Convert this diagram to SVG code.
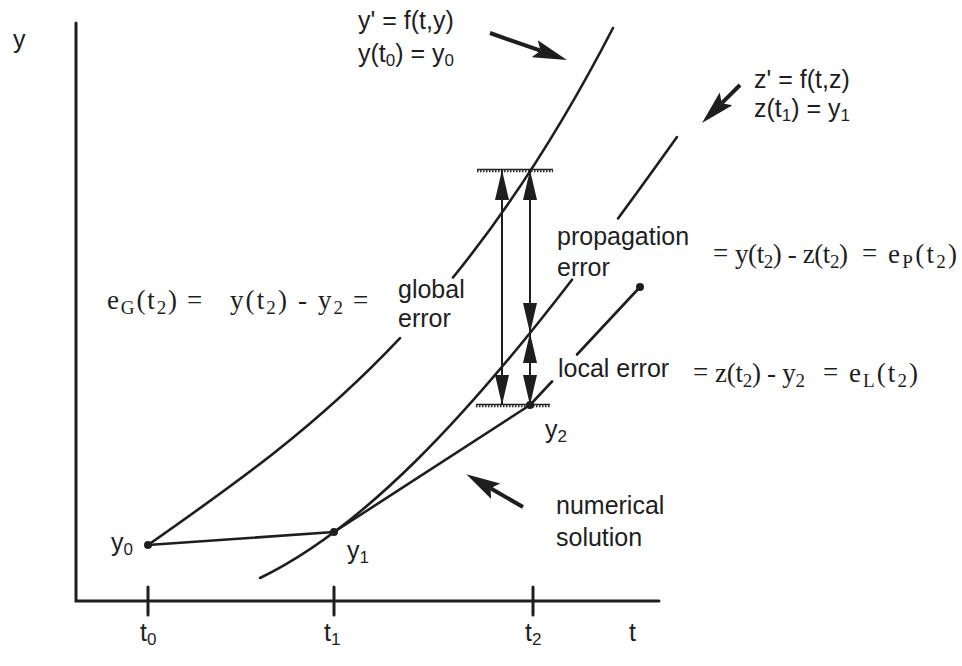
<svg xmlns="http://www.w3.org/2000/svg" width="962" height="666" viewBox="0 0 962 666">
<defs>
<style>
.ax{stroke:#1e1e1e;stroke-width:3;fill:none;stroke-linecap:round}
.cv{stroke:#1e1e1e;stroke-width:2.6;fill:none;stroke-linecap:round;stroke-linejoin:round}
.sh{stroke:#1e1e1e;stroke-width:2;fill:none}
.pt{stroke:#1e1e1e;stroke-width:4;fill:none}
.ht{stroke:#1e1e1e;stroke-width:1.3;fill:none}
.hd{stroke:#1e1e1e;stroke-width:2;fill:none;stroke-dasharray:1.5 1.5}
.s{font-family:"Liberation Sans",Arial,sans-serif;font-size:25px;fill:#1e1e1e}
.m{font-family:"Liberation Serif","Times New Roman",serif;font-size:27px;fill:#1e1e1e}
.b{font-size:19px}
.bs{font-size:17px}
.dot{fill:#1e1e1e}
</style>
<marker id="ah" markerUnits="userSpaceOnUse" markerWidth="32" markerHeight="16" viewBox="0 -8 32 16" refX="30" refY="0" orient="auto-start-reverse">
<path d="M30,0 L0,-7 L0,7 Z" fill="#1e1e1e"/>
</marker>
<marker id="pa" markerUnits="userSpaceOnUse" markerWidth="36" markerHeight="20" viewBox="0 -10 36 20" refX="6" refY="0" orient="auto">
<path d="M34,0 L0,-9 L6,0 L0,9 Z" fill="#1e1e1e"/>
</marker>
</defs>
<rect width="962" height="666" fill="#ffffff"/>

<g id="axes">
<path class="ax" d="M76,23 V601 H659"/>
<path class="ax" d="M148,587 V615 M334,587 V615 M533,587 V615"/>
</g>

<g id="connectors">
<path class="cv" d="M148,545 C232,486.2 316,427.4 400,338.1"/>
<path class="cv" d="M453,277.5 C506.3,211.8 559.7,131.2 613,28"/>
<path class="cv" d="M260,578 C364,527.8 468,415 572,279.7"/>
<path class="cv" d="M618,218.5 C637.7,191.8 657.3,164.6 677,137"/>
<polyline class="cv" points="148,545 334,532 530,405 552,381.5"/>
<line class="cv" x1="577" y1="354.5" x2="640" y2="287"/>
<path class="ht" d="M477,169.5 H553 M476,404.5 H550"/>
<path class="hd" d="M477,171.3 H553 M476,406.3 H550"/>
<line class="sh" x1="502" y1="170" x2="502" y2="405" marker-start="url(#ah)" marker-end="url(#ah)"/>
<line class="sh" x1="530" y1="170" x2="530" y2="333" marker-start="url(#ah)" marker-end="url(#ah)"/>
<line class="sh" x1="530" y1="333" x2="530" y2="405" marker-start="url(#ah)" marker-end="url(#ah)"/>
<line class="pt" x1="490" y1="33" x2="540.5" y2="50.7" marker-end="url(#pa)"/>
<line class="pt" x1="740" y1="85" x2="721.8" y2="103.2" marker-end="url(#pa)"/>
<line class="pt" x1="523" y1="507" x2="490.5" y2="488.2" marker-end="url(#pa)"/>
</g>

<g id="points">
<circle class="dot" cx="148" cy="545" r="4"/>
<circle class="dot" cx="334" cy="532" r="4"/>
<circle class="dot" cx="530" cy="405" r="4"/>
<circle class="dot" cx="640" cy="287" r="4"/>
</g>

<g id="labels">
<text class="s" x="13" y="48">y</text>
<text class="s" x="358" y="29">y' = f(t,y)</text>
<text class="s" x="358" y="62">y(t<tspan class="bs" dy="4">0</tspan><tspan dy="-4">) = y</tspan><tspan class="bs" dy="4">0</tspan></text>
<text class="s" x="754" y="88">z' = f(t,z)</text>
<text class="s" x="754" y="117">z(t<tspan class="bs" dy="4">1</tspan><tspan dy="-4">) = y</tspan><tspan class="bs" dy="4">1</tspan></text>
<text class="s" x="557" y="245">propagation</text>
<text class="s" x="557" y="276">error</text>
<text class="s" x="398" y="298">global</text>
<text class="s" x="398" y="327">error</text>
<text class="s" x="558" y="377">local error</text>
<text class="s" x="556" y="514">numerical</text>
<text class="s" x="556" y="546">solution</text>
<text class="s" x="111" y="551">y<tspan class="bs" dy="4">0</tspan></text>
<text class="s" x="347" y="559">y<tspan class="bs" dy="4">1</tspan></text>
<text class="s" x="545" y="438">y<tspan class="bs" dy="4">2</tspan></text>
<text class="s" x="140" y="641">t<tspan class="bs" dy="4">0</tspan></text>
<text class="s" x="324" y="641">t<tspan class="bs" dy="4">1</tspan></text>
<text class="s" x="525" y="641">t<tspan class="bs" dy="4">2</tspan></text>
<text class="s" x="629" y="641">t</text>
</g>

<g id="formulas">
<text class="m" x="107" y="309" textLength="70">e<tspan class="b" dy="5">G</tspan><tspan dy="-5">(t</tspan><tspan class="b" dy="5">2</tspan><tspan dy="-5">)</tspan></text>
<text class="m" x="187" y="309">=</text>
<text class="m" x="230" y="309" textLength="113">y(t<tspan class="b" dy="5">2</tspan><tspan dy="-5">) - y</tspan><tspan class="b" dy="5">2</tspan></text>
<text class="m" x="353" y="309">=</text>

<text class="m" x="713" y="262" font-size="23">=</text>
<text class="m" x="735" y="263" textLength="113">y(t<tspan class="b" dy="5">2</tspan><tspan dy="-5">) - z(t</tspan><tspan class="b" dy="5">2</tspan><tspan dy="-5">)</tspan></text>
<text class="m" x="862" y="262" font-size="32">=</text>
<text class="m" x="888" y="263" textLength="69">e<tspan class="b" dy="5">P</tspan><tspan dy="-5">(t</tspan><tspan class="b" dy="5">2</tspan><tspan dy="-5">)</tspan></text>

<text class="m" x="693" y="381" font-size="23">=</text>
<text class="m" x="715" y="382" textLength="90">z(t<tspan class="b" dy="5">2</tspan><tspan dy="-5">) - y</tspan><tspan class="b" dy="5">2</tspan></text>
<text class="m" x="823" y="381" font-size="32">=</text>
<text class="m" x="849" y="382" textLength="69">e<tspan class="b" dy="5">L</tspan><tspan dy="-5">(t</tspan><tspan class="b" dy="5">2</tspan><tspan dy="-5">)</tspan></text>
</g>
</svg>
